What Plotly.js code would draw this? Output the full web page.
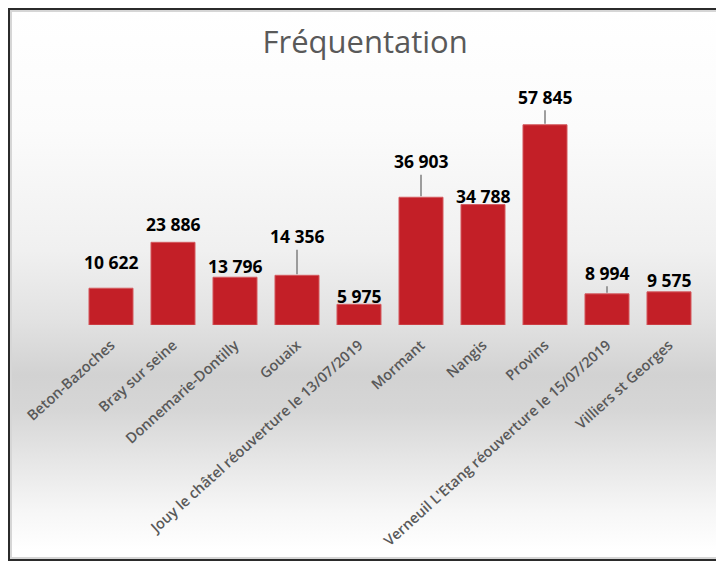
<!DOCTYPE html>
<html>
<head>
<meta charset="utf-8">
<script src="https://cdn.plot.ly/plotly-3.0.1.min.js"></script>
<style>
  html, body { margin: 0; padding: 0; width: 716px; height: 563px; overflow: hidden; background: #fff; }
  #frame {
    position: absolute; left: 8px; top: 8px; width: 730px; height: 549px;
    border: 2px solid #2b2b2b;
    box-shadow: inset 0 0 0 2px #d6d6d6;
    background: linear-gradient(to bottom,
      #ffffff 0px, #fbfbfb 120px, #f0f0f0 240px, #e2e2e2 310px,
      #d2d2d2 365px, #d6d6d6 400px, #e6e6e6 450px, #f6f6f6 500px, #ffffff 540px);
  }
  #chart { position: absolute; left: 0; top: 0; width: 716px; height: 563px; }
</style>
</head>
<body>
<div id="frame"></div>
<div id="chart"></div>
<script>
const categories = [
  "Beton-Bazoches",
  "Bray sur seine",
  "Donnemarie-Dontilly",
  "Gouaix",
  "Jouy le châtel réouverture le 13/07/2019",
  "Mormant",
  "Nangis",
  "Provins",
  "Verneuil L'Etang réouverture le 15/07/2019",
  "Villiers st Georges"
];
const values = [10622, 23886, 13796, 14356, 5975, 36903, 34788, 57845, 8994, 9575];
const valueLabels = ["10 622", "23 886", "13 796", "14 356", "5 975", "36 903", "34 788", "57 845", "8 994", "9 575"];

// label placement (styling): leader line or plain offset, in pixels
const labelStyle = [
  {leader: false, off: 26},
  {leader: false, off: 18},
  {leader: false, off: 11},
  {leader: true,  off: 39},
  {leader: false, off: 8},
  {leader: true,  off: 36},
  {leader: false, off: 9},
  {leader: true,  off: 28},
  {leader: true,  off: 21},
  {leader: false, off: 12}
];

const labelFont = {family: "Open Sans, sans-serif", size: 17.5, color: "#000000", weight: 700};

const annotations = values.map((v, i) => {
  const s = labelStyle[i];
  if (s.leader) {
    return {
      x: categories[i], y: v, xref: "x", yref: "y",
      text: valueLabels[i], showarrow: true, arrowhead: 0, arrowwidth: 1.5,
      arrowcolor: "#808080", ax: 0, ay: -s.off, standoff: 1,
      font: labelFont
    };
  }
  return {
    x: categories[i], y: v, xref: "x", yref: "y",
    text: valueLabels[i], showarrow: false, yanchor: "middle",
    yshift: s.off, font: labelFont
  };
});

const trace = {
  type: "bar",
  x: categories,
  y: values,
  marker: {color: "#C31F27", line: {color: "#D45A5F", width: 1}},
  hoverinfo: "skip"
};

const layout = {
  width: 716, height: 563,
  margin: {l: 80, r: 16, t: 100, b: 238},
  paper_bgcolor: "rgba(0,0,0,0)",
  plot_bgcolor: "rgba(0,0,0,0)",
  bargap: 0.29,
  showlegend: false,
  title: {
    text: "Fréquentation",
    x: 0.51, xref: "container", xanchor: "center",
    y: 0.925, yref: "container", yanchor: "middle",
    font: {family: "Open Sans, sans-serif", size: 31, color: "#595959"}
  },
  xaxis: {
    type: "category",
    tickangle: -42,
    showgrid: false, zeroline: false, showline: false, ticks: "",
    ticklabelstandoff: 8,
    tickfont: {family: "Open Sans, sans-serif", size: 14.5, color: "#595959", weight: 600},
    automargin: false
  },
  yaxis: {
    range: [0, 65000],
    visible: false, showgrid: false, zeroline: false
  },
  annotations: annotations
};

Plotly.newPlot("chart", [trace], layout, {displayModeBar: false, staticPlot: true});
</script>
</body>
</html>
